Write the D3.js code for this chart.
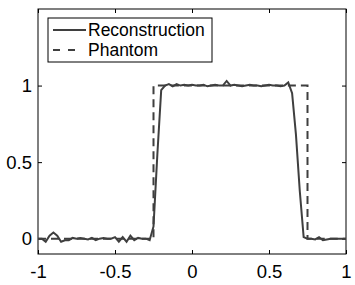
<!DOCTYPE html>
<html lang="en">
<head>
<meta charset="utf-8">
<title>Reconstruction vs Phantom</title>
<script src="https://d3js.org/d3.v7.min.js"></script>
<style>
    body { margin: 0; background: #fff; }
    svg text { font-family: "Liberation Sans", Arial, sans-serif; fill: #000; }
    path.line { fill: none; stroke: #3f3f3f; stroke-width: 2; }
</style>
</head>
<body>
<div id="divChart"></div>
<script>

// sample positions and reconstruction values
const reconX = [-1, -0.975, -0.95, -0.925, -0.9, -0.875, -0.85, -0.825, -0.8, -0.775,
    -0.75, -0.725, -0.7, -0.675, -0.65, -0.625, -0.6, -0.575, -0.55, -0.525,
    -0.5, -0.475, -0.45, -0.425, -0.4, -0.375, -0.35, -0.325, -0.3, -0.275,
    -0.25, -0.225, -0.2, -0.175, -0.15, -0.125, -0.1, -0.075, -0.05, -0.025,
    0, 0.025, 0.05, 0.075, 0.1, 0.125, 0.15, 0.175, 0.2, 0.225,
    0.25, 0.275, 0.3, 0.325, 0.35, 0.375, 0.4, 0.425, 0.45, 0.475,
    0.5, 0.525, 0.55, 0.575, 0.6, 0.625, 0.65, 0.675, 0.7, 0.725,
    0.75, 0.775, 0.8, 0.825, 0.85, 0.875, 0.9, 0.925, 0.95, 0.975, 1];
const reconY = [0, 0, -0.02, 0.02, 0.04, 0.02, -0.02, -0.01, -0.01, 0.005,
    0, 0.005, 0, -0.005, 0.005, -0.01, 0, 0.005, 0, 0,
    0.01, -0.02, 0.01, -0.02, 0.02, -0.01, 0.005, 0, 0, -0.01,
    0.08, 0.55, 0.97, 1.0, 1.01, 0.995, 1.01, 1.0, 1.005, 1.0,
    1.005, 1.0, 1.0, 1.005, 0.995, 1.0, 1.005, 1.0, 1.0, 1.03,
    1.0, 1.005, 1.0, 0.995, 1.0, 1.005, 1.0, 1.0, 0.995, 1.0,
    1.005, 1.0, 1.0, 0.995, 1.0, 1.02, 0.95, 0.68, 0.31, 0.01,
    0, 0, -0.005, 0.01, -0.01, -0.005, 0, 0, 0, 0, 0];

// phantom: box function
const phantomX = [-1, -0.25, -0.25, 0.75, 0.75, 1];
const phantomY = [0, 0, 1, 1, 0, 0];

const xTicks = [-1, -0.5, 0, 0.5, 1];
const yTicks = [0, 0.5, 1];
const legendLabels = ["Reconstruction", "Phantom"];

const W = 355, H = 285;
const margin = {top: 9, right: 9, bottom: 31, left: 38};
const width = W - margin.left - margin.right;
const height = H - margin.top - margin.bottom;

const svg = d3.select("#divChart").append("svg")
    .attr("width", W)
    .attr("height", H)
  .append("g")
    .attr("transform", "translate(" + margin.left + "," + margin.top + ")");

const x = d3.scaleLinear().domain([-1, 1]).range([0, width]);
const y = d3.scaleLinear().domain([-0.1, 1.5]).range([height, 0]);

const fmt = d => String(d);   // plain hyphen minus, as in the original

function styleAxis(g, noText) {
    g.select(".domain").remove();
    g.selectAll(".tick line").attr("stroke", "#000");
    g.selectAll(".tick text").style("font-size", "18.5px");
    if (noText) g.selectAll(".tick text").remove();
}

// inward ticks, mirrored on top and right
svg.append("g")
    .attr("transform", "translate(0," + height + ")")
    .call(d3.axisBottom(x).tickValues(xTicks).tickFormat(fmt).tickSizeInner(-4).tickSizeOuter(0).tickPadding(11))
    .call(g => styleAxis(g, false));
svg.append("g")
    .call(d3.axisTop(x).tickValues(xTicks).tickSizeInner(-4).tickSizeOuter(0))
    .call(g => styleAxis(g, true));
svg.append("g")
    .call(d3.axisLeft(y).tickValues(yTicks).tickFormat(fmt).tickSizeInner(-4).tickSizeOuter(0).tickPadding(6))
    .call(g => styleAxis(g, false));
svg.append("g")
    .attr("transform", "translate(" + width + ",0)")
    .call(d3.axisRight(y).tickValues(yTicks).tickSizeInner(-4).tickSizeOuter(0))
    .call(g => styleAxis(g, true));

svg.append("rect")
    .attr("width", width).attr("height", height)
    .attr("fill", "none").attr("stroke", "#000").attr("stroke-width", 1);

const line = d3.line().x(d => x(d[0])).y(d => y(d[1]));

svg.append("path")
    .datum(d3.zip(phantomX, phantomY))
    .attr("class", "line")
    .style("stroke-dasharray", "8, 5")
    .attr("d", line);

svg.append("path")
    .datum(d3.zip(reconX, reconY))
    .attr("class", "line")
    .attr("d", line);

// legend
const lg = svg.append("g").attr("transform", "translate(10,9)");
lg.append("rect")
    .attr("width", 164).attr("height", 44)
    .attr("fill", "#fff").attr("stroke", "#000").attr("stroke-width", 1);
legendLabels.forEach((lab, i) => {
    const yy = 12 + i * 20;
    lg.append("line")
        .attr("x1", 5).attr("x2", i == 1 ? 28 : 38).attr("y1", yy).attr("y2", yy)
        .attr("stroke", "#3f3f3f").attr("stroke-width", 2)
        .style("stroke-dasharray", i == 1 ? "7, 8" : null);
    lg.append("text")
        .attr("x", 40).attr("y", yy)
        .attr("dy", "0.35em")
        .style("font-size", "17.5px")
        .text(lab);
});

</script>
</body>
</html>
